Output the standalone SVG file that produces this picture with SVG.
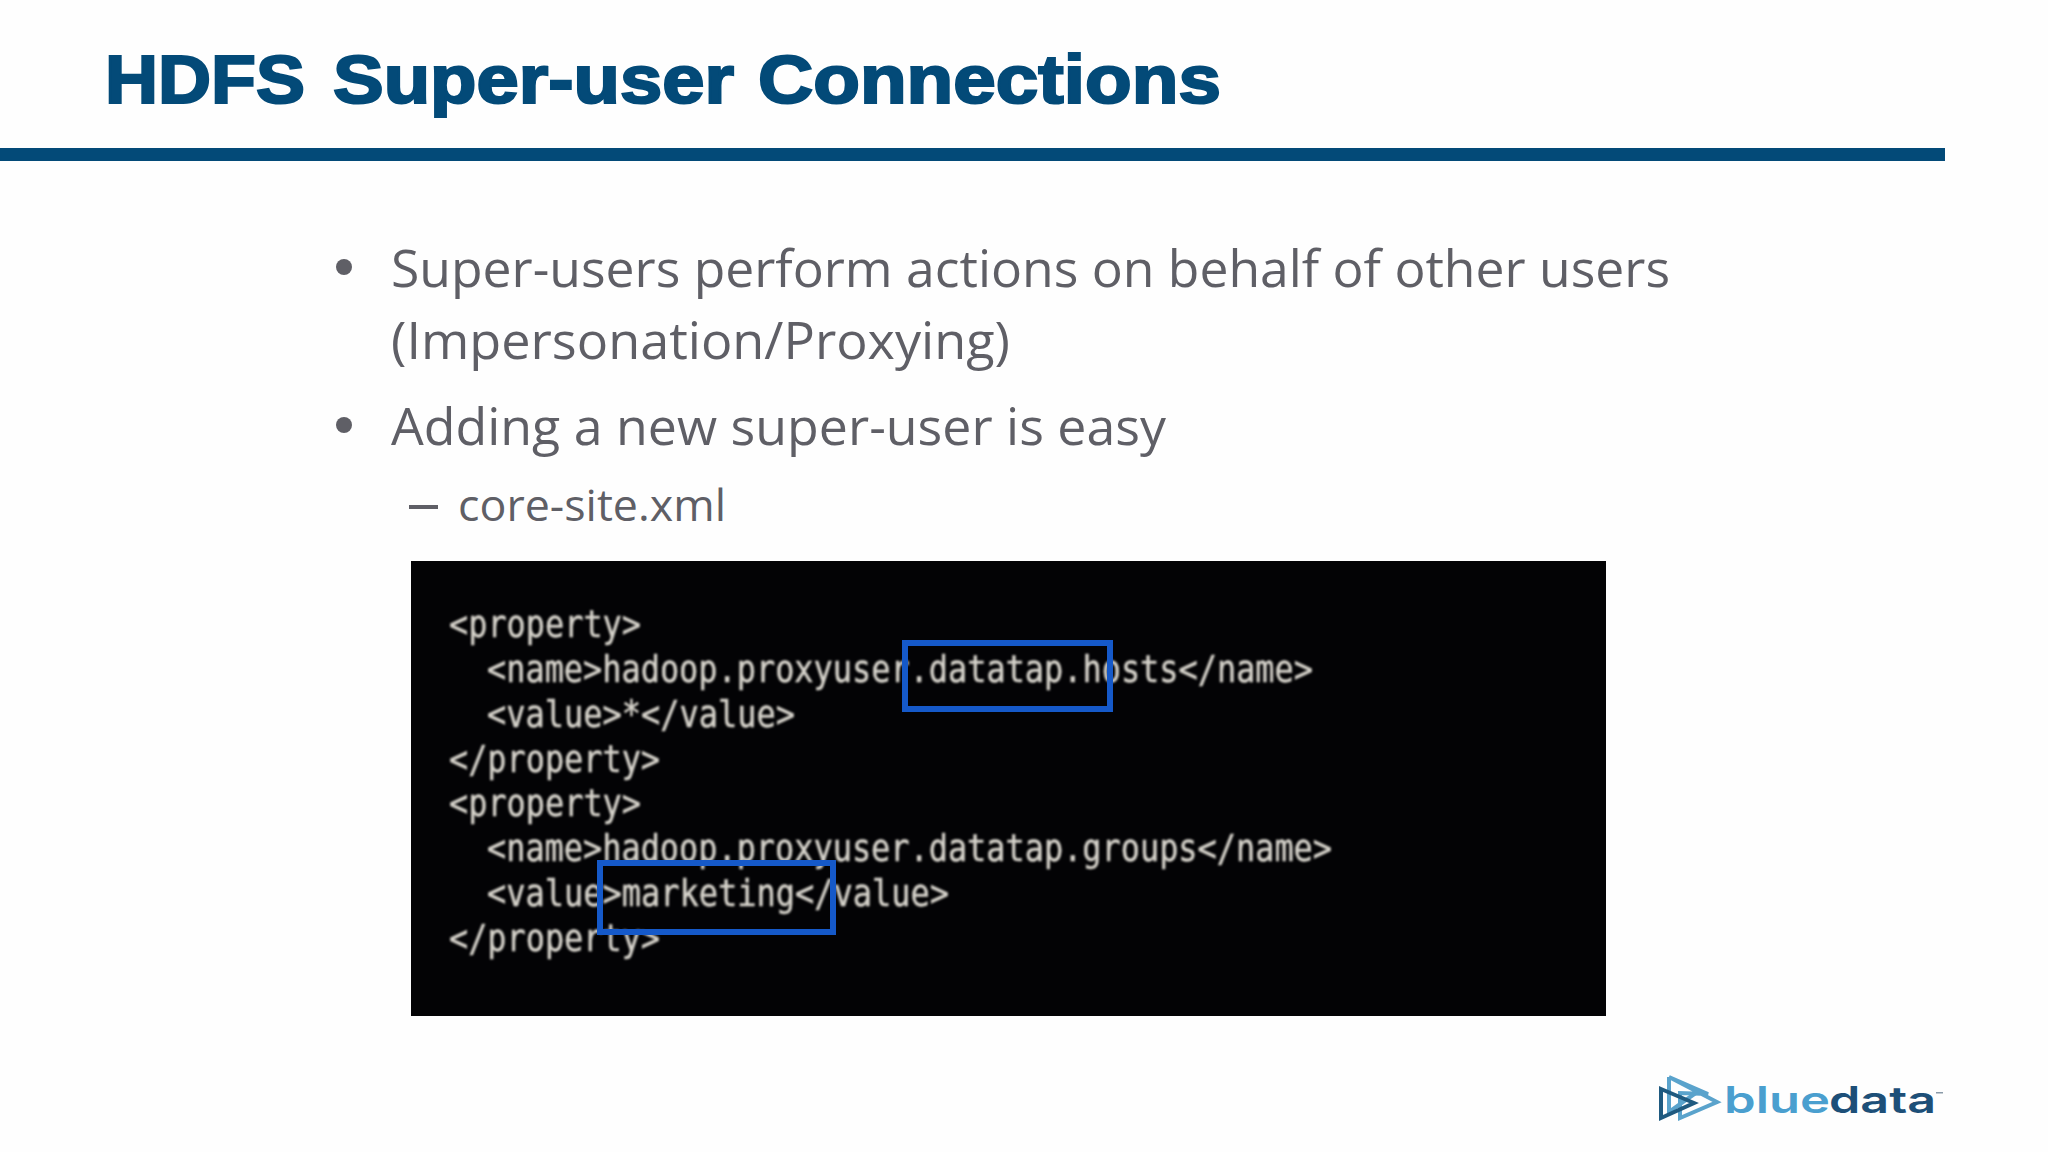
<svg xmlns="http://www.w3.org/2000/svg" width="2048" height="1152" viewBox="0 0 2048 1152">
<style>
.title{font-family:"Liberation Sans",Arial,sans-serif;font-weight:700;font-size:68px;fill:#034a78;stroke:#034a78;stroke-width:2.2px}
.b{font-family:"Open Sans",sans-serif;fill:#5f5f66;font-size:52px}
.s{font-family:"Open Sans",sans-serif;fill:#5f5f66;font-size:44px}
.c{font-family:"DejaVu Sans Mono",monospace;font-size:38px;fill:#d6d3cb;stroke:#d6d3cb;stroke-width:.5px}
.h{fill:none;stroke:#1559c9;stroke-width:6px}
.tri{fill:none;stroke-width:4px}
</style>
<defs><filter id="soft" x="-5%" y="-20%" width="110%" height="140%"><feGaussianBlur stdDeviation="0.8"/></filter></defs>
<rect width="2048" height="1152" fill="#fefefe"/>
<g id="header">
<text class="title" y="103"><tspan x="105" textLength="200" lengthAdjust="spacingAndGlyphs">HDFS</tspan> <tspan x="333" textLength="401" lengthAdjust="spacingAndGlyphs">Super-user</tspan> <tspan x="758" textLength="463" lengthAdjust="spacingAndGlyphs">Connections</tspan></text>
<rect x="0" y="148" width="1945" height="13" fill="#034a78"/>
</g>
<g id="bullets">
<circle cx="344" cy="267" r="8" fill="#5f5f66"/>
<text class="b" x="391" y="287" textLength="1279" lengthAdjust="spacingAndGlyphs">Super-users perform actions on behalf of other users</text>
<text class="b" x="391" y="359" textLength="619" lengthAdjust="spacingAndGlyphs">(Impersonation/Proxying)</text>
<circle cx="344" cy="425" r="8" fill="#5f5f66"/>
<text class="b" x="391" y="445" textLength="775" lengthAdjust="spacingAndGlyphs">Adding a new super-user is easy</text>
<rect x="409" y="505" width="29" height="4" fill="#5f5f66"/>
<text class="s" x="458" y="521" textLength="268" lengthAdjust="spacingAndGlyphs">core-site.xml</text>
</g>
<g id="code-panel">
<rect x="411" y="561" width="1195" height="455" fill="#030305"/>
<g filter="url(#soft)">
<text class="c" x="449" y="637" textLength="192" lengthAdjust="spacingAndGlyphs">&lt;property&gt;</text>
<text class="c" x="487" y="682" textLength="826" lengthAdjust="spacingAndGlyphs">&lt;name&gt;hadoop.proxyuser.datatap.hosts&lt;/name&gt;</text>
<text class="c" x="487" y="727" textLength="308" lengthAdjust="spacingAndGlyphs">&lt;value&gt;*&lt;/value&gt;</text>
<text class="c" x="449" y="772" textLength="211" lengthAdjust="spacingAndGlyphs">&lt;/property&gt;</text>
<text class="c" x="449" y="816" textLength="192" lengthAdjust="spacingAndGlyphs">&lt;property&gt;</text>
<text class="c" x="487" y="861" textLength="845" lengthAdjust="spacingAndGlyphs">&lt;name&gt;hadoop.proxyuser.datatap.groups&lt;/name&gt;</text>
<text class="c" x="487" y="906" textLength="462" lengthAdjust="spacingAndGlyphs">&lt;value&gt;marketing&lt;/value&gt;</text>
<text class="c" x="449" y="951" textLength="211" lengthAdjust="spacingAndGlyphs">&lt;/property&gt;</text>
</g>
<rect class="h" x="905" y="643" width="205" height="66"/>
<rect class="h" x="600" y="863" width="233" height="69"/>
</g>
<g id="logo">
<polygon class="tri" points="1669,1077 1717,1102 1680,1118 1680,1093 1708,1094" stroke="#5aa3cc"/>
<polyline class="tri" points="1669,1077 1669,1112 1700,1090" stroke="#5aa3cc"/>
<polygon class="tri" points="1661,1089 1694,1103 1661,1118" stroke="#1f5a80"/>
<text x="1724" y="1113" font-family="Inter,sans-serif" font-weight="600" font-size="37" fill="#4a9fcf" textLength="106" lengthAdjust="spacingAndGlyphs">blue</text>
<text x="1829" y="1113" font-family="Inter,sans-serif" font-weight="600" font-size="37" fill="#1d4f78" textLength="107" lengthAdjust="spacingAndGlyphs">data</text>
<rect x="1936" y="1092" width="7" height="1.5" fill="#8a9aa8"/>
</g>
</svg>
